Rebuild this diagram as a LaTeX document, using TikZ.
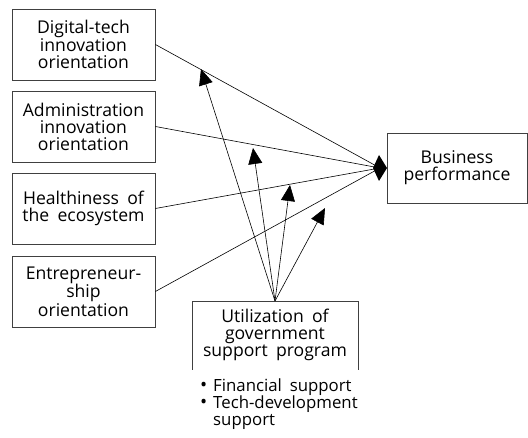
\documentclass[tikz,border=0pt]{standalone}
\usepackage{fontspec}
\setmainfont{Open Sans}[WordSpace=1.8]
\usetikzlibrary{arrows.meta}
\begin{document}
\begin{tikzpicture}[x=1pt,y=-1pt,
  box/.style={draw=black!75,line width=0.8pt,minimum width=143pt,minimum height=71pt,
    align=center,inner sep=0pt,font=\fontsize{17.6}{17}\selectfont},
  txt/.style={align=center,inner sep=0pt,font=\fontsize{17.6}{17}\selectfont},
  item/.style={anchor=base west,inner sep=0pt,text height=12pt,text depth=3.5pt,
    font=\fontsize{16.8}{17}\selectfont},
  dot/.style={anchor=base west,inner sep=0pt,font=\fontsize{19}{17}\selectfont},
  link/.style={line width=0.6pt},
  tip/.style={line width=0.6pt,-{Triangle[length=16pt,width=14pt]}}]
\useasboundingbox (0,0) rectangle (528,438);
% predictor boxes
\node[box] (b1) at (83.5,44.5) {Digital-tech\\innovation\\orientation};
\node[box] (b2) at (83.5,126.5) {Administration\\innovation\\orientation};
\node[box] (b3) at (83.5,208.5) {Healthiness of\\the ecosystem};
\node[box] (b4) at (83.5,291.5) {Entrepreneur-\\ship\\orientation};
% outcome box
\node[box,minimum width=140pt,minimum height=70pt] (bp) at (457,168) {Business\\performance};
% moderator, open at the bottom
\node[txt] (ug) at (275,335) {Utilization of\\government\\support program};
\draw[draw=black!75,line width=0.8pt] (192,370) -- (192,301) -- (358,301) -- (358,370);
\coordinate (uo) at (275,301);
% list of support types
\node[dot] (d1) at (200,391.5) {•};
\node[item] (i1) at (213,391.5) {Financial support};
\node[dot] (d2) at (200,408.8) {•};
\node[item] (i2) at (213,408.8) {Tech-development};
\node[item] (i3) at (213,426) {support};
% paths into the outcome
\coordinate (dm) at (380,168);
\foreach \b in {b1,b2,b3,b4} \draw[link] (\b.east) -- (dm);
\fill (373,168) -- (379,155) -- (387,168) -- (379,181) -- cycle;
% moderating arrows
\coordinate (t1) at (201,69);
\coordinate (t2) at (253,148);
\coordinate (t3) at (290,185);
\coordinate (t4) at (325,208);
\foreach \t in {t1,t2,t3,t4} \draw[tip] (uo) -- (\t);
\end{tikzpicture}
\end{document}
